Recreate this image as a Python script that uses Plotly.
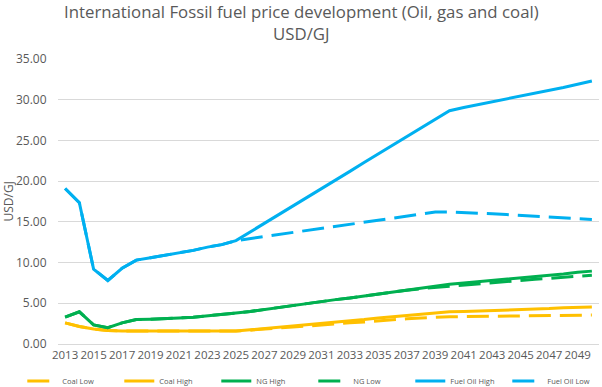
import plotly.graph_objects as go

years = list(range(2013, 2051))

coal_low = [2.6, 2.15, 1.85, 1.65, 1.6, 1.6, 1.6, 1.6, 1.6, 1.6, 1.6, 1.6, 1.6,
            1.7, 1.85, 1.95, 2.1, 2.2, 2.35, 2.45, 2.6, 2.7, 2.85, 2.95, 3.1, 3.2, 3.3, 3.35,
            3.37, 3.4, 3.42, 3.44, 3.46, 3.48, 3.5, 3.52, 3.54, 3.56]
coal_high = [2.6, 2.15, 1.85, 1.65, 1.6, 1.6, 1.6, 1.6, 1.6, 1.6, 1.6, 1.6, 1.6,
             1.75, 1.9, 2.05, 2.2, 2.4, 2.55, 2.7, 2.85, 3.0, 3.2, 3.35, 3.5, 3.65, 3.8, 3.95,
             4.0, 4.05, 4.1, 4.2, 4.25, 4.3, 4.35, 4.45, 4.5, 4.55]
ng_high = [3.3, 3.95, 2.35, 2.0, 2.6, 3.0, 3.05, 3.1, 3.2, 3.3, 3.45, 3.6, 3.8,
           4.0, 4.25, 4.5, 4.7, 4.95, 5.2, 5.45, 5.65, 5.9, 6.15, 6.4, 6.65, 6.9, 7.1, 7.35,
           7.5, 7.65, 7.8, 7.95, 8.1, 8.25, 8.45, 8.6, 8.8, 8.95]
ng_low = [3.3, 3.95, 2.35, 2.0, 2.6, 3.0, 3.05, 3.1, 3.2, 3.3, 3.45, 3.6, 3.8,
          4.0, 4.25, 4.5, 4.7, 4.95, 5.2, 5.45, 5.65, 5.9, 6.15, 6.4, 6.6, 6.8, 6.95, 7.1,
          7.25, 7.4, 7.55, 7.7, 7.8, 7.95, 8.05, 8.2, 8.3, 8.45]
oil_high = [19.1, 17.35, 9.2, 7.8, 9.3, 10.3, 10.6, 10.9, 11.2, 11.5, 11.9, 12.2, 12.7,
            13.75, 14.8, 15.9, 16.95, 18.0, 19.1, 20.15, 21.2, 22.3, 23.35, 24.4, 25.5, 26.55, 27.6, 28.65,
            29.05, 29.4, 29.75, 30.1, 30.4, 30.75, 31.1, 31.5, 31.9, 32.3]
oil_low = [19.1, 17.35, 9.2, 7.8, 9.3, 10.3, 10.6, 10.9, 11.2, 11.5, 11.9, 12.2, 12.7,
           12.95, 13.2, 13.45, 13.7, 13.95, 14.2, 14.45, 14.7, 14.95, 15.2, 15.45, 15.7, 15.95, 16.2, 16.2,
           16.15, 16.1, 16.0, 15.9, 15.8, 15.7, 15.6, 15.5, 15.4, 15.3]

yellow = "#FFC000"
green = "#00B050"
blue = "#00B0F0"
dash = "22px,9px"

series = [
    ("Coal Low", coal_low, yellow, dash),
    ("Coal High", coal_high, yellow, "solid"),
    ("NG High", ng_high, green, "solid"),
    ("NG Low", ng_low, green, dash),
    ("Fuel Oil High", oil_high, blue, "solid"),
    ("Fuel Oil Low", oil_low, blue, dash),
]

fig = go.Figure()
for name, vals, col, d in series:
    fig.add_trace(go.Scatter(x=years, y=vals, name=name, mode="lines",
                             line=dict(color=col, width=3, dash=d)))

grey = "#595959"
fig.update_layout(
    width=602, height=387,
    margin=dict(l=58, r=3, t=59, b=43, autoexpand=False),
    paper_bgcolor="white", plot_bgcolor="white",
    font=dict(family="Open Sans", color=grey, size=12),
    showlegend=True,
    legend=dict(orientation="h", x=-0.066, xanchor="left", y=-0.079, yanchor="top",
                font=dict(size=7.5, color=grey), entrywidth=52, entrywidthmode="pixels",
                traceorder="normal"),
    xaxis=dict(range=[2012.5, 2050.5], tickvals=list(range(2013, 2050, 2)),
               showgrid=False, showline=True, linecolor="#D9D9D9", linewidth=1,
               ticks="", tickangle=0, tickfont=dict(size=11.5), zeroline=False),
    yaxis=dict(range=[0, 35], dtick=5, tickformat=".2f", showgrid=True,
               gridcolor="#D9D9D9", gridwidth=1, zeroline=False,
               ticks="outside", ticklen=8, tickcolor="rgba(0,0,0,0)",
               tickfont=dict(size=12)),
    annotations=[
        dict(text="International Fossil fuel price development (Oil, gas and coal)<br>USD/GJ",
             xref="paper", yref="paper", x=(301 - 58) / 541, y=(344 + 2) / 285,
             xanchor="center", yanchor="top", showarrow=False,
             font=dict(size=16.8, color=grey)),
        # y axis title as a rotated note
        dict(text="USD/GJ", xref="paper", yref="paper", x=(8 - 58) / 541, y=0.5,
             xanchor="center", yanchor="middle", textangle=-90, showarrow=False,
             font=dict(size=12, color=grey)),
    ],
)

# the page body has an 8px margin by default; drop it so the chart sits at 0,0
fig.write_html("out.html", config={"displayModeBar": False},
               post_script="document.body.style.margin='0';")
